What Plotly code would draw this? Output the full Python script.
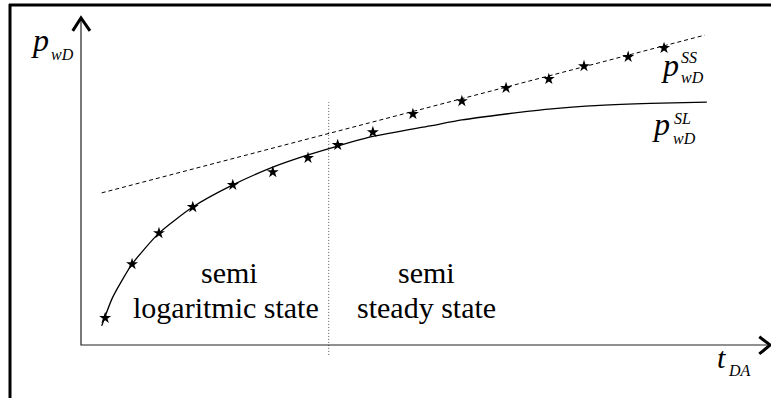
import plotly.graph_objects as go

# ---- data (x = t_DA, y = p_wD, arbitrary units) ----
star_t = [0.35, 0.74, 1.13, 1.62, 2.20, 2.78, 3.29, 3.72, 4.23, 4.81, 5.52, 6.16, 6.78, 7.29, 7.93, 8.45]
star_p = [0.82, 2.45, 3.39, 4.18, 4.85, 5.24, 5.67, 6.06, 6.45, 7.00, 7.39, 7.79, 8.06, 8.45, 8.73, 9.00]

sl_t = [0.30, 0.46, 0.74, 1.13, 1.62, 2.20, 2.78, 3.29, 3.72, 4.23, 5.06, 5.52, 6.16, 6.78, 7.52, 8.25, 9.07]
sl_p = [0.58, 1.45, 2.45, 3.39, 4.18, 4.85, 5.39, 5.76, 6.03, 6.32, 6.64, 6.82, 7.00, 7.15, 7.26, 7.32, 7.36]

ss_t = [0.30, 9.04]
ss_p = [4.61, 9.39]

boundary_t = [3.59, 3.59]
boundary_p = [-0.30, 7.36]

axis_x_end = 9.99
axis_y_end = 9.91

W, H = 771, 398
XR = [-81 / 69, 10.0]
YR = [-53 / 33, 345 / 33]

fig = go.Figure()

# straight-line (semi steady state) asymptote
fig.add_trace(go.Scatter(x=ss_t, y=ss_p, mode="lines",
                         line=dict(color="black", width=1, dash="4px,3px"),
                         hoverinfo="skip"))
# semi-logarithmic curve
fig.add_trace(go.Scatter(x=sl_t, y=sl_p, mode="lines",
                         line=dict(color="black", width=1.3, shape="spline", smoothing=0.6),
                         hoverinfo="skip"))
# boundary between regimes
fig.add_trace(go.Scatter(x=boundary_t, y=boundary_p, mode="lines",
                         line=dict(color="#555555", width=1, dash="1px,2px"),
                         hoverinfo="skip"))
# measured points
fig.add_trace(go.Scatter(x=star_t, y=star_p, mode="markers",
                         marker=dict(symbol="star", size=9, color="black",
                                     line=dict(width=0)),
                         hoverinfo="skip"))

# axes with open chevron arrowheads
fig.add_trace(go.Scatter(x=[0, 0, axis_x_end], y=[axis_y_end, 0, 0], mode="lines",
                         line=dict(color="#222222", width=1.2), hoverinfo="skip"))
fig.add_trace(go.Scatter(x=[-0.12, 0, 0.13], y=[9.52, axis_y_end, 9.52], mode="lines",
                         line=dict(color="black", width=3), hoverinfo="skip"))
fig.add_trace(go.Scatter(x=[9.83, axis_x_end, 9.83], y=[0.25, 0, -0.27], mode="lines",
                         line=dict(color="black", width=3), hoverinfo="skip"))

shapes = [
    dict(type="line", xref="paper", yref="paper", x0=10 / W, x1=10 / W, y0=0, y1=1 - 4 / H,
         line=dict(color="black", width=3)),
    dict(type="line", xref="paper", yref="paper", x0=9 / W, x1=1, y0=1 - 5 / H, y1=1 - 5 / H,
         line=dict(color="black", width=3)),
]

SERIF = "Liberation Serif"


def ann(text, x, y, size, xanchor="left"):
    return dict(text=text, xref="paper", yref="paper", x=x / W, y=1 - y / H,
                xanchor=xanchor, yanchor="middle", showarrow=False, borderpad=0,
                font=dict(family=SERIF, size=size, color="black"))


annotations = [
    ann("semi", 229, 272.8, 30, "center"),
    ann("logaritmic state", 226, 307, 30, "center"),
    ann("semi", 426, 272.8, 30, "center"),
    ann("steady state", 426, 307, 30, "center"),
    ann("<i>p</i>", 30, 40, 32),
    ann("<i>wD</i>", 50, 54, 16),
    ann("<i>t</i>", 716, 357, 30),
    ann("<i>DA</i>", 727, 370, 16),
    ann("<i>p</i>", 660, 65, 32),
    ann("<i>SS</i>", 680, 57, 16),
    ann("<i>wD</i>", 680, 77, 16),
    ann("<i>p</i>", 651, 124, 32),
    ann("<i>SL</i>", 673, 118, 16),
    ann("<i>wD</i>", 672, 138, 16),
]

fig.update_layout(
    width=W, height=H,
    margin=dict(l=0, r=0, t=0, b=0),
    paper_bgcolor="white", plot_bgcolor="white",
    showlegend=False,
    font=dict(family=SERIF),
    xaxis=dict(range=XR, visible=False, fixedrange=True),
    yaxis=dict(range=YR, visible=False, fixedrange=True),
    shapes=shapes,
    annotations=annotations,
)

fig.write_html("out.html", config={"displayModeBar": False},
               post_script="document.body.style.margin='0';document.body.style.overflow='hidden';")
